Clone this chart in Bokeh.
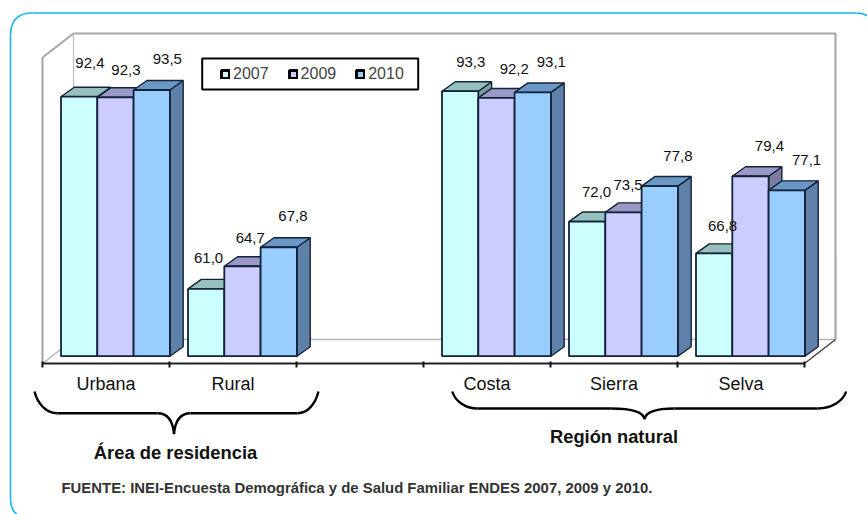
from bokeh.plotting import figure
from bokeh.models import LinearAxis, FixedTicker, Legend, LegendItem
from bokeh.core.properties import value
from bokeh.embed import file_html
from bokeh.resources import INLINE

# ---- data ----
categories = ["Urbana", "Rural", "Costa", "Sierra", "Selva"]
slots = [0, 1, 3, 4, 5]
years = ["2007", "2009", "2010"]
v2007 = [92.4, 61.0, 93.3, 72.0, 66.8]
v2009 = [92.3, 64.7, 92.2, 73.5, 79.4]
v2010 = [93.5, 67.8, 93.1, 77.8, 77.1]
series = [v2007, v2009, v2010]

# hand placed data label offsets (px, from bar centre / top)
label_dx = [[10.8, 2.4, 10.6, 9.4, 8.4], [10.5, 7.8, 17.8, 4.6, 19.0], [15.6, 14.2, 18.6, 18.2, 19.8]]
label_dy = [[-33.5, -30.4, -29.7, -29.1, -27.2], [-27.8, -28.4, -29.1, -26.9, -30.1], [-30.5, -31.5, -30.9, -30.4, -29.9]]

face_colors = ["#CCFFFF", "#CCCCFF", "#99CCFF"]
top_colors = ["#96C0BE", "#9A98C6", "#6B97C6"]
side_colors = ["#7C9E9E", "#7C7CA0", "#5F80A8"]
edge = "#12233A"

# ---- scales: one category = 127 px, one percentage point = 6.12 px ----
W, H = 867, 514
X_PX, Y_PX = 127.0, 6.12
Y_MIN, Y_MAX = 50, 100
def sx(px): return (px - 42) / X_PX
def sy(py): return Y_MIN + (355.7 - py) / Y_PX

p = figure(width=W, height=H, output_backend="svg", toolbar_location=None,
           x_range=(sx(0), sx(W)), y_range=(sy(H), sy(0)),
           x_axis_type=None, y_axis_type=None, min_border=0,
           outline_line_color=None, background_fill_color="white", border_fill_color="white")
p.grid.visible = False

# ---- rounded panel border ----
blue = "#12B5F0"
p.segment(x0=[sx(10), sx(32)], y0=[sy(35), sy(12.5)], x1=[sx(10), sx(856)], y1=[sy(499), sy(12.5)],
          line_color=blue, line_width=1.6)
p.bezier(x0=[sx(10), sx(856), sx(10)], y0=[sy(35), sy(12.5), sy(499)],
         x1=[sx(32), sx(868), sx(18)], y1=[sy(12.5), sy(16), sy(515)],
         cx0=[sx(10), sx(861), sx(10)], cy0=[sy(20), sy(12.5), sy(506)],
         cx1=[sx(18), sx(865), sx(13)], cy1=[sy(12.5), sy(14), sy(512)],
         line_color=blue, line_width=1.6)

# ---- 3D walls and floor ----
DEPTH_DX = 31 / X_PX
DEPTH_DY = 24 / Y_PX
FLOOR = sy(363)
WALL_TOP = FLOOR + (Y_MAX - Y_MIN)
wall = "#A8A8A8"
x_l, x_r = 0.0, 6.0
p.line([x_l, x_l + DEPTH_DX, x_r + DEPTH_DX, x_r + DEPTH_DX],
       [WALL_TOP, WALL_TOP + DEPTH_DY, WALL_TOP + DEPTH_DY, FLOOR + DEPTH_DY],
       line_color=wall, line_width=2.2)
p.line([x_l, x_l], [FLOOR, WALL_TOP], line_color=wall, line_width=2.2)
p.line([x_l + DEPTH_DX] * 2, [FLOOR + DEPTH_DY, WALL_TOP + DEPTH_DY], line_color="#BDBDBD", line_width=1.2)
p.line([x_l, x_l + DEPTH_DX, x_r + DEPTH_DX], [FLOOR, FLOOR + DEPTH_DY, FLOOR + DEPTH_DY],
       line_color="#B4B4B4", line_width=1.5)
p.line([x_r, x_r + DEPTH_DX], [FLOOR, FLOOR + DEPTH_DY], line_color="#444444", line_width=1.5)

# ---- axis: ticks between the categories, labels at their centres ----
centres = [s + 0.5 for s in slots]
axis = LinearAxis(fixed_location=FLOOR, bounds=(0, 6),
                  ticker=FixedTicker(ticks=centres, minor_ticks=list(range(7))),
                  major_label_overrides={c: n for c, n in zip(centres, categories)},
                  axis_line_color="#222222", axis_line_width=2,
                  major_tick_line_color=None, major_tick_in=0, major_tick_out=0,
                  minor_tick_line_color="#111111", minor_tick_line_width=2,
                  minor_tick_in=2, minor_tick_out=4,
                  major_label_standoff=6, major_label_text_font="Liberation Sans",
                  major_label_text_font_size="18px", major_label_text_color="#111111")
p.add_layout(axis, "below")

# ---- bars ----
PAD = 18.5 / X_PX
BW = 36.3 / X_PX
BAR_DX = 13.3 / X_PX
BAR_DY = 9.5 / Y_PX
for k, vals in enumerate(series):
    left = [s + PAD + k * BW for s in slots]
    right = [l + BW for l in left]
    side_x = [[r, r + BAR_DX, r + BAR_DX, r] for r in right]
    side_y = [[Y_MIN, Y_MIN + BAR_DY, v + BAR_DY, v] for v in vals]
    top_x = [[l, l + BAR_DX, r + BAR_DX, r] for l, r in zip(left, right)]
    top_y = [[v, v + BAR_DY, v + BAR_DY, v] for v in vals]
    p.patches(side_x, side_y, fill_color=side_colors[k], line_color=edge, line_width=1.4)
    p.patches(top_x, top_y, fill_color=top_colors[k], line_color=edge, line_width=1.4)
    p.quad(left=left, right=right, bottom=[Y_MIN] * len(vals), top=vals,
           fill_color=face_colors[k], line_color=edge, line_width=1.8)

# ---- data labels ----
for k, vals in enumerate(series):
    xs = [s + PAD + (k + 0.5) * BW + d / X_PX for s, d in zip(slots, label_dx[k])]
    ys = [v - d / Y_PX for v, d in zip(vals, label_dy[k])]
    txt = [f"{v:.1f}".replace(".", ",") for v in vals]
    p.text(x=xs, y=ys, text=txt, text_font=value("Liberation Sans"), text_font_size="15px",
           text_color="#111111", text_align="center", text_baseline="middle")

# ---- legend frame ----
p.quad(left=[sx(201.7)], right=[sx(417.7)], top=[sy(58)], bottom=[sy(89)],
       fill_color="white", line_color="#000000", line_width=2)

# ---- legend (swatches from off-range proxies, so they can carry their own thick outline) ----
items = []
for k, y in enumerate(years):
    r = p.quad(left=[-9], right=[-8.9], bottom=[Y_MIN], top=[Y_MAX], fill_color=face_colors[k],
               line_color="#000000", line_width=3)
    items.append(LegendItem(label=y, renderers=[r]))
legend = Legend(items=items, orientation="horizontal", location=(220, 431),
                glyph_width=10, glyph_height=10, label_text_font="Liberation Sans",
                label_text_font_size="16px", label_standoff=3, spacing=19,
                padding=16, margin=0, border_line_color=None, background_fill_alpha=0)
p.add_layout(legend, "center")

# ---- braces ----
def draw_brace(ax, aend, a2, tipx, tipy, b0, b1, bend, yh, y0=391):
    k = 0.55
    segs = [
        ((ax, y0), (ax + 3, y0 + (yh - y0) * k), (aend - (aend - ax) * 0.5, yh), (aend, yh)),
        ((aend, yh), (aend + 20, yh), (a2 - 20, yh), (a2, yh)),
        ((a2, yh), (a2 + (tipx - a2) * 0.65, yh), (tipx - 1, tipy - (tipy - yh) * 0.6), (tipx, tipy)),
        ((tipx, tipy), (tipx + 1, tipy - (tipy - yh) * 0.6), (b0 - (b0 - tipx) * 0.65, yh), (b0, yh)),
        ((b0, yh), (b0 + 20, yh), (b1 - 20, yh), (b1, yh)),
        ((b1, yh), (b1 + (bend - b1) * 0.5, yh), (bend - 3, y0 + (yh - y0) * k), (bend, y0)),
    ]
    p.bezier(x0=[sx(s[0][0]) for s in segs], y0=[sy(s[0][1]) for s in segs],
             x1=[sx(s[3][0]) for s in segs], y1=[sy(s[3][1]) for s in segs],
             cx0=[sx(s[1][0]) for s in segs], cy0=[sy(s[1][1]) for s in segs],
             cx1=[sx(s[2][0]) for s in segs], cy1=[sy(s[2][1]) for s in segs],
             line_color="#000000", line_width=2.4)

draw_brace(34, 57, 157, 173.5, 433.7, 190, 297, 318, 412.7)
draw_brace(451.7, 477, 610.7, 644, 418.7, 674, 817, 845.7, 408)

# ---- annotations ----
p.text(x=[sx(175)], y=[sy(452)], text=["Área de residencia"], text_font=value("Liberation Sans"),
       text_font_style="bold", text_font_size="18.4px", text_color="#111111",
       text_align="center", text_baseline="middle")
p.text(x=[sx(613.5)], y=[sy(436)], text=["Región natural"], text_font=value("Liberation Sans"),
       text_font_style="bold", text_font_size="18.3px", text_color="#111111",
       text_align="center", text_baseline="middle")
p.text(x=[sx(61)], y=[sy(487)], text=["FUENTE: INEI-Encuesta Demográfica y de Salud Familiar ENDES 2007, 2009 y 2010."],
       text_font=value("Liberation Sans"), text_font_style="bold", text_font_size="14.9px", text_color="#333333",
       text_align="left", text_baseline="middle")

open("out.html", "w").write(file_html(p, INLINE))
